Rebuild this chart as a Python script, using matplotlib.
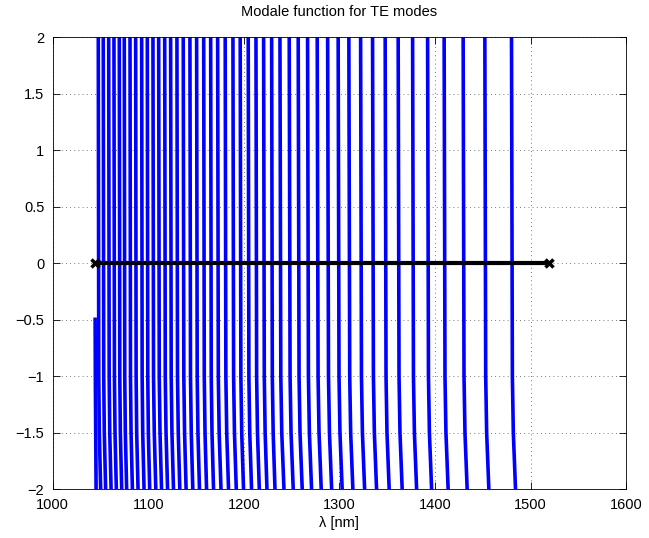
import matplotlib
matplotlib.use("Agg")
import matplotlib.pyplot as plt

# wavelength (nm) of each branch of the modal function at y = +2, -1, -1.5, -2
lam_p2 = [1047.7, 1052.9, 1058.6, 1064.1, 1069.7, 1074.9, 1080.9, 1086.8, 1093.1, 1099.0,
          1104.9, 1110.9, 1117.2, 1123.4, 1130.0, 1136.6, 1143.6, 1150.6, 1158.0, 1165.3,
          1172.6, 1180.5, 1188.6, 1196.2, 1204.6, 1212.7, 1220.7, 1229.1,
          1237.8, 1247.5, 1256.9, 1266.7, 1276.8, 1287.7, 1298.7, 1309.9, 1322.2, 1334.7,
          1347.9, 1361.5, 1376.6, 1392.3, 1409.6, 1429.5, 1452.2, 1480.1]
lam_m1 = [1048.2, 1053.4, 1059.1, 1064.6, 1070.2, 1075.4, 1081.4, 1087.3, 1093.6, 1099.5,
          1105.5, 1111.5, 1117.8, 1124.0, 1130.6, 1137.2, 1144.2, 1151.2, 1158.6, 1165.9,
          1173.3, 1181.2, 1189.3, 1196.9, 1205.3, 1213.4, 1221.4, 1229.8,
          1238.7, 1248.4, 1257.8, 1267.6, 1277.7, 1288.6, 1299.6, 1310.8, 1323.1, 1335.6,
          1348.8, 1362.4, 1377.5, 1393.2, 1410.5, 1430.4, 1453.1, 1481.0]
lam_m15 = [1048.8, 1054.0, 1059.7, 1065.2, 1070.8, 1076.0, 1082.0, 1087.9, 1094.2, 1100.1,
           1106.3, 1112.3, 1118.6, 1124.8, 1131.4, 1138.0, 1145.0, 1152.0, 1159.4, 1166.7,
           1174.2, 1182.1, 1190.2, 1197.8, 1206.2, 1214.3, 1222.3, 1230.7,
           1239.7, 1249.4, 1258.8, 1268.6, 1278.7, 1289.6, 1300.6, 1311.8, 1324.1, 1336.6,
           1349.8, 1363.4, 1378.5, 1394.2, 1411.5, 1431.4, 1454.1, 1482.0]
lam_m2 = [1050.2, 1055.4, 1061.1, 1066.6, 1072.2, 1077.4, 1083.4, 1089.3, 1095.6, 1101.5,
          1107.9, 1113.9, 1120.2, 1126.4, 1133.0, 1139.6, 1146.6, 1153.6, 1161.0, 1168.3,
          1176.1, 1184.0, 1192.1, 1199.7, 1208.1, 1216.2, 1224.2, 1232.6,
          1242.0, 1251.7, 1261.1, 1270.9, 1281.0, 1291.9, 1302.9, 1314.1, 1326.4, 1338.9,
          1352.1, 1365.7, 1380.8, 1396.5, 1413.8, 1433.7, 1456.4, 1484.3]
branch_y = [2.0, -1.0, -1.5, -2.0]

# first (partial) branch at the start of the wavelength range
stub_lam = [1044.4, 1044.6, 1045.4]
stub_y = [-0.48, -1.0, -2.0]

# zero line between the range limits
zero_lam = [1044.4, 1519.5]
zero_y = [0.0, 0.0]

xticks = [1000, 1100, 1200, 1300, 1400, 1500, 1600]
yticks = [-2, -1.5, -1, -0.5, 0, 0.5, 1, 1.5, 2]

plt.rcParams['font.family'] = ['Liberation Sans', 'DejaVu Sans']
fig = plt.figure(figsize=(6.49, 5.38), dpi=100)
ax = fig.add_axes([0.0812, 0.0905, 0.8835, 0.8402])

blue = '#0000ff'
for a, b, c, d in zip(lam_p2, lam_m1, lam_m15, lam_m2):
    ax.plot([a, b, c, d], branch_y, color=blue, lw=2.6, solid_capstyle='butt',
            solid_joinstyle='round')
ax.plot(stub_lam, stub_y, color=blue, lw=2.6, solid_capstyle='butt')

ax.plot(zero_lam, zero_y, color='black', lw=3, marker='x', ms=6, mew=2.5)

ax.set_xlim(1000, 1600)
ax.set_ylim(-2, 2)
ax.set_xticks(xticks)
ax.set_yticks(yticks)
ax.set_yticklabels(['\u22122', '\u22121.5', '\u22121', '\u22120.5', '0', '0.5', '1', '1.5', '2'])
ax.tick_params(direction='in', top=True, right=True, length=5, width=0.6,
               labelsize=10.5, pad=6)
ax.grid(True, linestyle=(0, (1, 4)), color='#000000', lw=0.6, alpha=0.7)
for s in ax.spines.values():
    s.set_linewidth(0.6)
ax.set_title('Modale function for TE modes', fontsize=10.5, pad=15)
ax.set_xlabel('\u03bb [nm]', fontsize=10.5, labelpad=3)

fig.savefig('out.png', dpi=100)
